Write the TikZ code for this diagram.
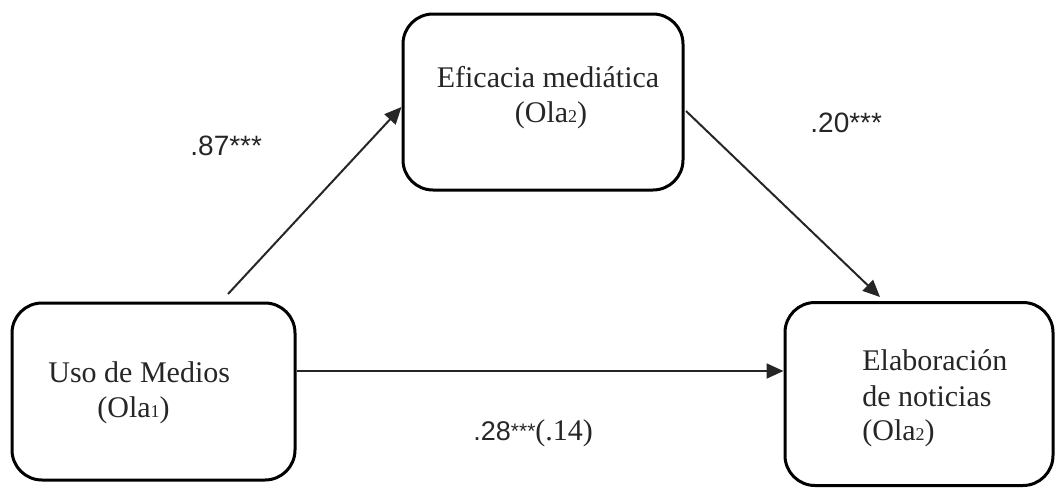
\documentclass[tikz,border=0pt]{standalone}
\usepackage{fontspec}
\setmainfont{Liberation Serif}
\newfontfamily\lblfont{Liberation Sans}
\usetikzlibrary{arrows.meta,calc}
\newcommand{\subd}[1]{{\fontsize{9}{9}\selectfont #1}}
\begin{document}
\begin{tikzpicture}[x=0.5pt,y=-0.5pt,
  box/.style={draw=black,line width=1.5pt,rounded corners=15pt,inner sep=0pt},
  txt/.style={font=\fontsize{15}{17}\selectfont,inner sep=0pt,anchor=base west,text=black!85},
  lbl/.style={font=\lblfont\fontsize{14}{16}\selectfont,inner sep=0pt,anchor=base west,text=black!85},
  arr/.style={draw=black!85,line width=1pt,-{Triangle[length=8.5pt,width=7.5pt]}}]
\useasboundingbox (0,0) rectangle (1057,488);
% boxes
\node[box,minimum width=140pt,minimum height=88pt] (efi) at (543,102) {};
\node[box,minimum width=141.5pt,minimum height=88.5pt] (uso) at (153.5,391.5) {};
\node[box,minimum width=134pt,minimum height=91.5pt] (elab) at (919,394) {};
% box texts
\node[txt,anchor=base] (efi1) at (548,87) {Eficacia mediática};
\node[txt,anchor=base] (efi2) at (551,122) {(Ola\subd{2})};
\node[txt] (uso1) at (48,382) {Uso de Medios};
\node[txt] (uso2) at (97,417) {(Ola\subd{1})};
\node[txt] (elab1) at (862,370) {Elaboración};
\node[txt] (elab2) at (862,406) {de noticias};
\node[txt] (elab3) at (862,440) {(Ola\subd{2})};
% labels
\node[lbl] (l87) at (190,155) {.87***};
\node[lbl] (l20) at (810,132) {.20***};
\node[lbl,font=\lblfont\fontsize{13.5}{15}\selectfont] (l28) at (473,440) {.28\raisebox{1pt}{\fontsize{10.5}{11}\selectfont ***}{\rmfamily\fontsize{15}{17}\selectfont (.14)}};
% connector end points
\coordinate (a1s) at (228,294);
\coordinate (a2s) at (686,111);
\coordinate (a2e) at (880,297);
\coordinate (a3y) at (0,371);
% connectors
\draw[arr] (a1s) -- (efi.west |- 0,107);
\draw[arr] (a2s) -- (a2e);
\draw[arr] (uso.east |- a3y) -- (elab.west |- a3y);
\end{tikzpicture}
\end{document}
